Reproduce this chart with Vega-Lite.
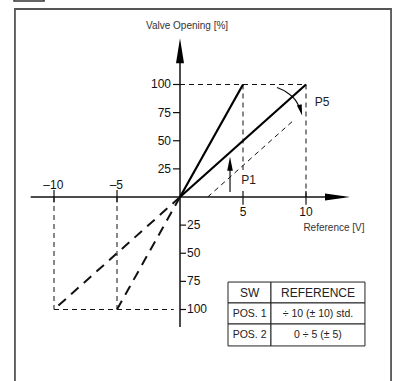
{
  "$schema": "https://vega.github.io/schema/vega-lite/v6.json",
  "width": 393,
  "height": 381,
  "padding": 0,
  "autosize": {"type": "none"},
  "background": "white",
  "config": {"view": {"stroke": null}, "text": {"font": "Liberation Sans"}},
  "datasets": {
    "frames": [
      {"id": "frame", "x": -13.1, "x2": 16.75, "y": 167.1, "y2": -200},
      {"id": "corner", "x": -13.17, "x2": -10.79, "y": 174.2, "y2": 190}
    ],
    "segs": [
      {"id": "s1", "kind": "solid", "o": 0, "x": 0, "y": 0},
      {"id": "s1", "kind": "solid", "o": 1, "x": 5, "y": 100},
      {"id": "s2", "kind": "solid", "o": 0, "x": 0, "y": 0},
      {"id": "s2", "kind": "solid", "o": 1, "x": 10, "y": 100},
      {"id": "ax", "kind": "axis", "o": 0, "x": -11.85, "y": 0},
      {"id": "ax", "kind": "axis", "o": 1, "x": 13, "y": 0},
      {"id": "ay", "kind": "axis", "o": 0, "x": 0, "y": 130},
      {"id": "ay", "kind": "axis", "o": 1, "x": 0, "y": -115.6},
      {"id": "d1", "kind": "thickdash", "o": 0, "x": 0, "y": 0},
      {"id": "d1", "kind": "thickdash", "o": 1, "x": -10, "y": -100},
      {"id": "d2", "kind": "thickdash", "o": 0, "x": 0, "y": 0},
      {"id": "d2", "kind": "thickdash", "o": 1, "x": -5, "y": -100},
      {"id": "g1", "kind": "thindash", "o": 0, "x": 0, "y": 100},
      {"id": "g1", "kind": "thindash", "o": 1, "x": 10, "y": 100},
      {"id": "g2", "kind": "thindash", "o": 0, "x": 5, "y": 100},
      {"id": "g2", "kind": "thindash", "o": 1, "x": 5, "y": 24},
      {"id": "g3", "kind": "thindash", "o": 0, "x": 10, "y": 100},
      {"id": "g3", "kind": "thindash", "o": 1, "x": 10, "y": 0},
      {"id": "g4", "kind": "thindash", "o": 0, "x": -10, "y": 0},
      {"id": "g4", "kind": "thindash", "o": 1, "x": -10, "y": -100},
      {"id": "g5", "kind": "thindash", "o": 0, "x": -5, "y": 0},
      {"id": "g5", "kind": "thindash", "o": 1, "x": -5, "y": -100},
      {"id": "g6", "kind": "thindash", "o": 0, "x": -10, "y": -100},
      {"id": "g6", "kind": "thindash", "o": 1, "x": -0.5, "y": -100},
      {"id": "g7", "kind": "thindash", "o": 0, "x": 2.2, "y": 0},
      {"id": "g7", "kind": "thindash", "o": 1, "x": 9.1, "y": 69},
      {"id": "c1", "kind": "thin", "o": 0, "x": 7.7, "y": 97.3},
      {"id": "c1", "kind": "thin", "o": 1, "x": 8.49, "y": 92.9},
      {"id": "c1", "kind": "thin", "o": 2, "x": 9.13, "y": 86.6},
      {"id": "c1", "kind": "thin", "o": 3, "x": 9.5, "y": 79.5},
      {"id": "a1", "kind": "thin", "o": 0, "x": 3.97, "y": 4.5},
      {"id": "a1", "kind": "thin", "o": 1, "x": 3.97, "y": 26},
      {"id": "tx1", "kind": "thin", "o": 0, "x": -10, "y": 6.2},
      {"id": "tx1", "kind": "thin", "o": 1, "x": -10, "y": -5},
      {"id": "tx2", "kind": "thin", "o": 0, "x": -5, "y": 6.2},
      {"id": "tx2", "kind": "thin", "o": 1, "x": -5, "y": -5},
      {"id": "tx3", "kind": "thin", "o": 0, "x": 5, "y": 5.3},
      {"id": "tx3", "kind": "thin", "o": 1, "x": 5, "y": -6.8},
      {"id": "tx4", "kind": "thin", "o": 0, "x": 10, "y": 5.3},
      {"id": "tx4", "kind": "thin", "o": 1, "x": 10, "y": -6.8},
      {"id": "ty1", "kind": "thin", "o": 0, "x": -0.556, "y": 25},
      {"id": "ty1", "kind": "thin", "o": 1, "x": 0, "y": 25},
      {"id": "ty2", "kind": "thin", "o": 0, "x": -0.556, "y": 50},
      {"id": "ty2", "kind": "thin", "o": 1, "x": 0, "y": 50},
      {"id": "ty3", "kind": "thin", "o": 0, "x": -0.556, "y": 75},
      {"id": "ty3", "kind": "thin", "o": 1, "x": 0, "y": 75},
      {"id": "ty4", "kind": "thin", "o": 0, "x": -0.556, "y": 100},
      {"id": "ty4", "kind": "thin", "o": 1, "x": 0, "y": 100},
      {"id": "ty5", "kind": "thin", "o": 0, "x": 0, "y": -25},
      {"id": "ty5", "kind": "thin", "o": 1, "x": 0.476, "y": -25},
      {"id": "ty6", "kind": "thin", "o": 0, "x": 0, "y": -50},
      {"id": "ty6", "kind": "thin", "o": 1, "x": 0.476, "y": -50},
      {"id": "ty7", "kind": "thin", "o": 0, "x": 0, "y": -75},
      {"id": "ty7", "kind": "thin", "o": 1, "x": 0.476, "y": -75},
      {"id": "ty8", "kind": "thin", "o": 0, "x": 0, "y": -100},
      {"id": "ty8", "kind": "thin", "o": 1, "x": 0.476, "y": -100}
    ],
    "heads": [
      {"id": "yaxis", "x": 0, "y": 129.9},
      {"id": "xaxis", "x": 12.5, "y": 0},
      {"id": "p1", "x": 3.97, "y": 29.5},
      {"id": "p5", "x": 9.58, "y": 77.2}
    ],
    "cells": [
      {"x": 3.81, "x2": 7.22, "y": -75.6, "y2": -94.2},
      {"x": 7.22, "x2": 14.68, "y": -75.6, "y2": -94.2},
      {"x": 3.81, "x2": 7.22, "y": -94.2, "y2": -112.9},
      {"x": 7.22, "x2": 14.68, "y": -94.2, "y2": -112.9},
      {"x": 3.81, "x2": 7.22, "y": -112.9, "y2": -132.4},
      {"x": 7.22, "x2": 14.68, "y": -112.9, "y2": -132.4}
    ],
    "labels": [
      {"kind": "yl", "t": "100", "x": -0.714, "y": 100},
      {"kind": "yl", "t": "75", "x": -0.714, "y": 75},
      {"kind": "yl", "t": "50", "x": -0.714, "y": 50},
      {"kind": "yl", "t": "25", "x": -0.714, "y": 25},
      {"kind": "yr", "t": "25", "x": 0.556, "y": -25},
      {"kind": "yr", "t": "50", "x": 0.556, "y": -50},
      {"kind": "yr", "t": "75", "x": 0.556, "y": -75},
      {"kind": "yr", "t": "100", "x": 0.556, "y": -100},
      {"kind": "xl", "t": "–10", "x": -10.05, "y": 10.7},
      {"kind": "xl", "t": "–5", "x": -5.05, "y": 10.7},
      {"kind": "xl", "t": "5", "x": 5, "y": -13.3},
      {"kind": "xl", "t": "10", "x": 10, "y": -13.3},
      {"kind": "title", "t": "Valve Opening [%]", "x": 0.56, "y": 152},
      {"kind": "title", "t": "Reference [V]", "x": 12.22, "y": -27.6},
      {"kind": "p", "t": "P5", "x": 11.27, "y": 84.4},
      {"kind": "p", "t": "P1", "x": 5.45, "y": 15.1},
      {"kind": "th", "t": "SW", "x": 5.52, "y": -84.9},
      {"kind": "th", "t": "REFERENCE", "x": 10.95, "y": -84.9},
      {"kind": "tb", "t": "POS. 1", "x": 5.52, "y": -103.6},
      {"kind": "tb", "t": "÷ 10 (± 10) std.", "x": 10.95, "y": -103.6},
      {"kind": "tb", "t": "POS. 2", "x": 5.52, "y": -122.7},
      {"kind": "tb", "t": "0 ÷ 5 (± 5)", "x": 10.95, "y": -122.7}
    ]
  },
  "encoding": {
    "x": {"field": "x", "type": "quantitative", "axis": null, "scale": {"domain": [-14.286, 16.905], "nice": false, "zero": false}},
    "y": {"field": "y", "type": "quantitative", "axis": null, "scale": {"domain": [-163.56, 175.11], "nice": false, "zero": false}}
  },
  "layer": [
    {
      "data": {"name": "frames"},
      "transform": [{"filter": "datum.id == 'frame'"}],
      "mark": {"type": "rect", "fill": null, "stroke": "#555555", "strokeWidth": 1.8},
      "encoding": {"x2": {"field": "x2"}, "y2": {"field": "y2"}}
    },
    {
      "data": {"name": "frames"},
      "transform": [{"filter": "datum.id == 'corner'"}],
      "mark": {"type": "rect", "fill": null, "stroke": "#333333", "strokeWidth": 1.5},
      "encoding": {"x2": {"field": "x2"}, "y2": {"field": "y2"}}
    },
    {
      "data": {"name": "cells"},
      "mark": {"type": "rect", "fill": "white", "stroke": "#222222", "strokeWidth": 1},
      "encoding": {"x2": {"field": "x2"}, "y2": {"field": "y2"}}
    },
    {
      "data": {"name": "segs"},
      "transform": [{"filter": "datum.kind == 'thindash'"}],
      "mark": {"type": "line", "stroke": "#111111", "strokeWidth": 1, "strokeDash": [5, 4]},
      "encoding": {"detail": {"field": "id"}, "order": {"field": "o"}}
    },
    {
      "data": {"name": "segs"},
      "transform": [{"filter": "datum.kind == 'thickdash'"}],
      "mark": {"type": "line", "stroke": "#111111", "strokeWidth": 2, "strokeDash": [10, 7]},
      "encoding": {"detail": {"field": "id"}, "order": {"field": "o"}}
    },
    {
      "data": {"name": "segs"},
      "transform": [{"filter": "datum.kind == 'thin'"}],
      "mark": {"type": "line", "stroke": "#111111", "strokeWidth": 1.2, "interpolate": "monotone"},
      "encoding": {"detail": {"field": "id"}, "order": {"field": "o"}}
    },
    {
      "data": {"name": "segs"},
      "transform": [{"filter": "datum.kind == 'axis'"}],
      "mark": {"type": "line", "stroke": "#111111", "strokeWidth": 1.5},
      "encoding": {"detail": {"field": "id"}, "order": {"field": "o"}}
    },
    {
      "data": {"name": "segs"},
      "transform": [{"filter": "datum.kind == 'solid'"}],
      "mark": {"type": "line", "stroke": "#000000", "strokeWidth": 2.2},
      "encoding": {"detail": {"field": "id"}, "order": {"field": "o"}}
    },
    {
      "data": {"name": "heads"},
      "transform": [{"filter": "datum.id == 'yaxis'"}],
      "mark": {"type": "point", "shape": "M0,-1L0.32,1L-0.32,1Z", "size": 625, "filled": true, "fill": "#000000", "opacity": 1, "strokeWidth": 0}
    },
    {
      "data": {"name": "heads"},
      "transform": [{"filter": "datum.id == 'xaxis'"}],
      "mark": {"type": "point", "shape": "M1,0L-1,-0.28L-1,0.28Z", "size": 625, "filled": true, "fill": "#000000", "opacity": 1, "strokeWidth": 0}
    },
    {
      "data": {"name": "heads"},
      "transform": [{"filter": "datum.id == 'p1'"}],
      "mark": {"type": "point", "shape": "M0,-1L0.4,1L-0.4,1Z", "size": 196, "filled": true, "fill": "#000000", "opacity": 1, "strokeWidth": 0}
    },
    {
      "data": {"name": "heads"},
      "transform": [{"filter": "datum.id == 'p5'"}],
      "mark": {"type": "point", "shape": "M0,1L-0.45,-1L0.45,-1Z", "size": 121, "angle": -15, "filled": true, "fill": "#000000", "opacity": 1, "strokeWidth": 0}
    },
    {
      "data": {"name": "labels"},
      "transform": [{"filter": "datum.kind == 'yl'"}],
      "mark": {"type": "text", "align": "right", "baseline": "middle", "fontSize": 12, "fill": "#111111"},
      "encoding": {"text": {"field": "t"}}
    },
    {
      "data": {"name": "labels"},
      "transform": [{"filter": "datum.kind == 'yr'"}],
      "mark": {"type": "text", "align": "left", "baseline": "middle", "fontSize": 12, "fill": "#111111"},
      "encoding": {"text": {"field": "t"}}
    },
    {
      "data": {"name": "labels"},
      "transform": [{"filter": "datum.kind == 'xl'"}],
      "mark": {"type": "text", "align": "center", "baseline": "middle", "fontSize": 12, "fill": "#111111"},
      "encoding": {"text": {"field": "t"}}
    },
    {
      "data": {"name": "labels"},
      "transform": [{"filter": "datum.kind == 'title'"}],
      "mark": {"type": "text", "align": "center", "baseline": "middle", "fontSize": 10, "fill": "#333333"},
      "encoding": {"text": {"field": "t"}}
    },
    {
      "data": {"name": "labels"},
      "transform": [{"filter": "datum.kind == 'p'"}],
      "mark": {"type": "text", "align": "center", "baseline": "middle", "fontSize": 12, "fill": "#222222"},
      "encoding": {"text": {"field": "t"}}
    },
    {
      "data": {"name": "labels"},
      "transform": [{"filter": "datum.kind == 'th'"}],
      "mark": {"type": "text", "align": "center", "baseline": "middle", "fontSize": 12, "fill": "#222222"},
      "encoding": {"text": {"field": "t"}}
    },
    {
      "data": {"name": "labels"},
      "transform": [{"filter": "datum.kind == 'tb'"}],
      "mark": {"type": "text", "align": "center", "baseline": "middle", "fontSize": 10.5, "fill": "#222222"},
      "encoding": {"text": {"field": "t"}}
    }
  ]
}
